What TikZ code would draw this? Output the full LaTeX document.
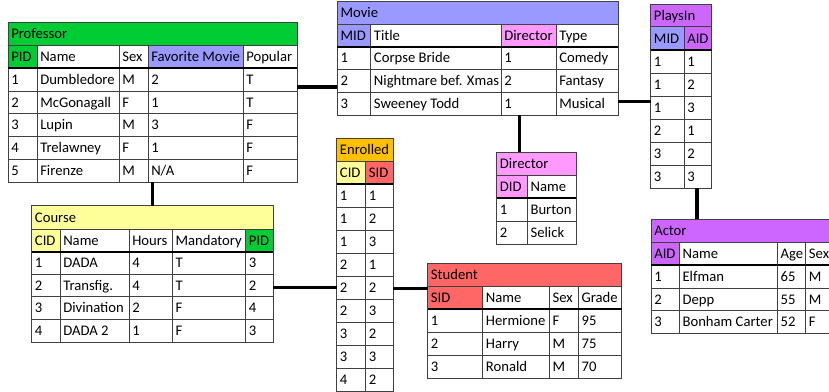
\documentclass[tikz,border=0pt]{standalone}
\usepackage{fontspec}
\setmainfont{Carlito}

\definecolor{pgreen}{RGB}{0,204,51}
\definecolor{mlav}{RGB}{153,153,255}
\definecolor{dpink}{RGB}{255,153,255}
\definecolor{apurple}{RGB}{204,102,255}
\definecolor{egold}{RGB}{255,192,0}
\definecolor{cyellow}{RGB}{255,255,153}
\definecolor{sred}{RGB}{255,102,102}

\tikzset{
  grid/.style={draw=black!75, line width=0.6pt},
  keyline/.style={draw=black, line width=1.6pt},
  link/.style={draw=black, line width=2.6pt},
  cell/.style={anchor=west, inner sep=0pt, text height=7pt, text depth=0pt}
}

\begin{document}
\begin{tikzpicture}[x=0.75pt, y=-0.75pt, font=\fontsize{11}{13}\selectfont]
      \clip (0,0) rectangle (829,392);
      \fill[white] (0,0) rectangle (829,392);

      % Professor
      \fill[pgreen] (8,22.5) rectangle (297,45);
      \fill[pgreen] (8,45) rectangle (37,68.3);
      \fill[mlav] (148,45) rectangle (243,68.3);
      \draw[grid] (8,22.5) rectangle (297,182.3);
      \foreach \y in {45,91.1,113.9,136.7,159.5} \draw[grid] (8,\y) -- (297,\y);
      \foreach \x in {37,119,148,243} \draw[grid] (\x,45) -- (\x,182.3);
      \draw[keyline] (8,68.3) -- (297,68.3);
      \node[cell] (prof) at (11,33.8) {Professor};
      \node[cell] (prof-h1) at (11,56.6) {PID};
      \node[cell] (prof-h2) at (40,56.6) {Name};
      \node[cell] (prof-h3) at (122,56.6) {Sex};
      \node[cell] (prof-h4) at (151,56.6) {Favorite Movie};
      \node[cell] (prof-h5) at (246,56.6) {Popular};
      \foreach \n/\y/\a/\b/\c/\d/\e in {1/79.7/1/Dumbledore/M/2/T, 2/102.5/2/McGonagall/F/1/T,
          3/125.3/3/Lupin/M/3/F, 4/148.1/4/Trelawney/F/1/F, 5/170.9/5/Firenze/M/{N/A}/F} {
        \node[cell] (prof-\n-1) at (11,\y) {\a};
        \node[cell] (prof-\n-2) at (40,\y) {\b};
        \node[cell] (prof-\n-3) at (122,\y) {\c};
        \node[cell] (prof-\n-4) at (151,\y) {\d};
        \node[cell] (prof-\n-5) at (246,\y) {\e};
      }

      % Movie
      \fill[mlav] (337.3,1.7) rectangle (618.3,24);
      \fill[mlav] (337.3,24) rectangle (370.7,46.7);
      \fill[dpink] (501,24) rectangle (556,46.7);
      \draw[grid] (337.3,1.7) rectangle (618.3,115);
      \foreach \y in {24,69.5,92.3} \draw[grid] (337.3,\y) -- (618.3,\y);
      \foreach \x in {370.7,501,556} \draw[grid] (\x,24) -- (\x,115);
      \draw[keyline] (337.3,46.7) -- (618.3,46.7);
      \node[cell] (movie) at (340.3,12.9) {Movie};
      \node[cell] (movie-h1) at (340.3,35.4) {MID};
      \node[cell] (movie-h2) at (373.7,35.4) {Title};
      \node[cell] (movie-h3) at (504,35.4) {Director};
      \node[cell] (movie-h4) at (559,35.4) {Type};
      \foreach \n/\y/\a/\b/\c/\d in {1/58.1/1/Corpse Bride/1/Comedy, 2/80.9/2/Nightmare bef. Xmas/2/Fantasy,
          3/103.7/3/Sweeney Todd/1/Musical} {
        \node[cell] (movie-\n-1) at (340.3,\y) {\a};
        \node[cell] (movie-\n-2) at (373.7,\y) {\b};
        \node[cell] (movie-\n-3) at (504,\y) {\c};
        \node[cell] (movie-\n-4) at (559,\y) {\d};
      }

      % PlaysIn
      \fill[apurple] (650.7,4) rectangle (711.7,26.7);
      \fill[mlav] (650.7,26.7) rectangle (684,50);
      \fill[apurple] (684,26.7) rectangle (711.7,50);
      \draw[grid] (650.7,4) rectangle (711.7,188.3);
      \foreach \y in {26.7,73.05,96.1,119.15,142.2,165.25} \draw[grid] (650.7,\y) -- (711.7,\y);
      \draw[grid] (684,26.7) -- (684,188.3);
      \draw[keyline] (650.7,50) -- (711.7,50);
      \node[cell] (plays) at (653.7,15.4) {PlaysIn};
      \node[cell] (plays-h1) at (653.7,38.4) {MID};
      \node[cell] (plays-h2) at (687,38.4) {AID};
      \foreach \n/\y/\a/\b in {1/61.5/1/1, 2/84.6/1/2, 3/107.6/1/3, 4/130.7/2/1, 5/153.7/3/2, 6/176.8/3/3} {
        \node[cell] (plays-\n-1) at (653.7,\y) {\a};
        \node[cell] (plays-\n-2) at (687,\y) {\b};
      }

      % Director
      \fill[dpink] (496.7,152.3) rectangle (576,175.7);
      \fill[dpink] (496.7,175.7) rectangle (527.3,198.3);
      \draw[grid] (496.7,152.3) rectangle (576,244);
      \foreach \y in {175.7,221} \draw[grid] (496.7,\y) -- (576,\y);
      \draw[grid] (527.3,175.7) -- (527.3,244);
      \draw[keyline] (496.7,198.3) -- (576,198.3);
      \node[cell] (dir) at (499.7,164) {Director};
      \node[cell] (dir-h1) at (499.7,187) {DID};
      \node[cell] (dir-h2) at (530.3,187) {Name};
      \foreach \n/\y/\a/\b in {1/209.7/1/Burton, 2/232.5/2/Selick} {
        \node[cell] (dir-\n-1) at (499.7,\y) {\a};
        \node[cell] (dir-\n-2) at (530.3,\y) {\b};
      }

      % Enrolled
      \fill[egold] (336.7,138.3) rectangle (393.3,161.7);
      \fill[cyellow] (336.7,161.7) rectangle (365.7,184.3);
      \fill[sred] (365.7,161.7) rectangle (393.3,184.3);
      \draw[grid] (336.7,138.3) rectangle (393.3,391.3);
      \foreach \y in {161.7,207.3,230.3,253.3,276.3,299.3,322.3,345.3,368.3} \draw[grid] (336.7,\y) -- (393.3,\y);
      \draw[grid] (365.7,161.7) -- (365.7,391.3);
      \draw[keyline] (336.7,184.3) -- (393.3,184.3);
      \node[cell] (enr) at (339.7,150) {Enrolled};
      \node[cell] (enr-h1) at (339.7,173) {CID};
      \node[cell] (enr-h2) at (368.7,173) {SID};
      \foreach \n/\y/\a/\b in {1/195.8/1/1, 2/218.8/1/2, 3/241.8/1/3, 4/264.8/2/1, 5/287.8/2/2,
          6/310.8/2/3, 7/333.8/3/2, 8/356.8/3/3, 9/379.8/4/2} {
        \node[cell] (enr-\n-1) at (339.7,\y) {\a};
        \node[cell] (enr-\n-2) at (368.7,\y) {\b};
      }

      % Course
      \fill[cyellow] (31.7,205.7) rectangle (273.3,229.3);
      \fill[cyellow] (31.7,229.3) rectangle (60,251.7);
      \fill[pgreen] (245.7,229.3) rectangle (273.3,251.7);
      \draw[grid] (31.7,205.7) rectangle (273.3,342.1);
      \foreach \y in {229.3,274.3,296.9,319.5} \draw[grid] (31.7,\y) -- (273.3,\y);
      \foreach \x in {60,129,172.3,245.7} \draw[grid] (\x,229.3) -- (\x,342.1);
      \draw[keyline] (31.7,251.7) -- (273.3,251.7);
      \node[cell] (course) at (34.7,217.5) {Course};
      \node[cell] (course-h1) at (34.7,240.5) {CID};
      \node[cell] (course-h2) at (63,240.5) {Name};
      \node[cell] (course-h3) at (132,240.5) {Hours};
      \node[cell] (course-h4) at (175.3,240.5) {Mandatory};
      \node[cell] (course-h5) at (248.7,240.5) {PID};
      \foreach \n/\y/\a/\b/\c/\d/\e in {1/263/1/DADA/4/T/3, 2/285.6/2/Transfig./4/T/2,
          3/308.2/3/Divination/2/F/4, 4/330.8/4/DADA 2/1/F/3} {
        \node[cell] (course-\n-1) at (34.7,\y) {\a};
        \node[cell] (course-\n-2) at (63,\y) {\b};
        \node[cell] (course-\n-3) at (132,\y) {\c};
        \node[cell] (course-\n-4) at (175.3,\y) {\d};
        \node[cell] (course-\n-5) at (248.7,\y) {\e};
      }

      % Student
      \fill[sred] (427.7,263.3) rectangle (621.7,286.7);
      \fill[sred] (427.7,286.7) rectangle (482.7,309.3);
      \draw[grid] (427.7,263.3) rectangle (621.7,378.3);
      \foreach \y in {286.7,332.3,355.3} \draw[grid] (427.7,\y) -- (621.7,\y);
      \foreach \x in {482.7,549.3,578.3} \draw[grid] (\x,286.7) -- (\x,378.3);
      \draw[keyline] (427.7,309.3) -- (621.7,309.3);
      \node[cell] (stud) at (430.7,275) {Student};
      \node[cell] (stud-h1) at (430.7,298) {SID};
      \node[cell] (stud-h2) at (485.7,298) {Name};
      \node[cell] (stud-h3) at (552.3,298) {Sex};
      \node[cell] (stud-h4) at (581.3,298) {Grade};
      \foreach \n/\y/\a/\b/\c/\d in {1/320.8/1/Hermione/F/95, 2/343.8/2/Harry/M/75, 3/366.8/3/Ronald/M/70} {
        \node[cell] (stud-\n-1) at (430.7,\y) {\a};
        \node[cell] (stud-\n-2) at (485.7,\y) {\b};
        \node[cell] (stud-\n-3) at (552.3,\y) {\c};
        \node[cell] (stud-\n-4) at (581.3,\y) {\d};
      }

      % Actor
      \fill[apurple] (651,219.3) rectangle (845,242.3);
      \fill[apurple] (651,242.3) rectangle (679.3,265.3);
      \draw[grid] (651,219.3) rectangle (845,333.4);
      \foreach \y in {242.3,288,310.7} \draw[grid] (651,\y) -- (845,\y);
      \foreach \x in {679.3,777.3,805.7} \draw[grid] (\x,242.3) -- (\x,333.4);
      \draw[keyline] (651,265.3) -- (845,265.3);
      \node[cell] (actor) at (654,230.8) {Actor};
      \node[cell] (actor-h1) at (654,253.8) {AID};
      \node[cell] (actor-h2) at (682.3,253.8) {Name};
      \node[cell] (actor-h3) at (780.3,253.8) {Age};
      \node[cell] (actor-h4) at (808.7,253.8) {Sex};
      \foreach \n/\y/\a/\b/\c/\d in {1/276.7/1/Elfman/65/M, 2/299.4/2/Depp/55/M, 3/322.1/3/Bonham Carter/52/F} {
        \node[cell] (actor-\n-1) at (654,\y) {\a};
        \node[cell] (actor-\n-2) at (682.3,\y) {\b};
        \node[cell] (actor-\n-3) at (780.3,\y) {\c};
        \node[cell] (actor-\n-4) at (808.7,\y) {\d};
      }

      % links
      \coordinate (prof-e) at (297,87);
      \coordinate (movie-w) at (337.3,87);
      \coordinate (prof-s) at (152.7,182.3);
      \coordinate (course-n) at (152.7,205.7);
      \coordinate (course-e) at (273.3,287.3);
      \coordinate (enr-w) at (336.7,287.3);
      \coordinate (enr-e) at (393.3,288.7);
      \coordinate (stud-w) at (427.7,288.7);
      \coordinate (movie-s) at (519.3,115);
      \coordinate (dir-n) at (519.3,152.3);
      \coordinate (movie-e) at (618.3,101.5);
      \coordinate (plays-w) at (650.7,101.5);
      \coordinate (plays-s) at (697,188.3);
      \coordinate (actor-n) at (697,219.3);
      \draw[link] (prof-e) -- (movie-w);
      \draw[link] (prof-s) -- (course-n);
      \draw[link] (course-e) -- (enr-w);
      \draw[link] (enr-e) -- (stud-w);
      \draw[link] (movie-s) -- (dir-n);
      \draw[link] (movie-e) -- (plays-w);
      \draw[link] (plays-s) -- (actor-n);
   \end{tikzpicture}
\end{document}
